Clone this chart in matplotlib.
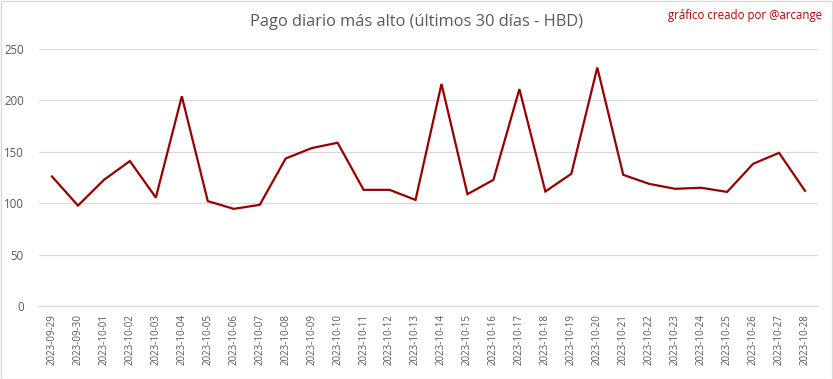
import matplotlib
matplotlib.use("Agg")
import matplotlib.pyplot as plt
from matplotlib.patches import Rectangle

dates = ["2023-09-29", "2023-09-30", "2023-10-01", "2023-10-02", "2023-10-03",
         "2023-10-04", "2023-10-05", "2023-10-06", "2023-10-07", "2023-10-08",
         "2023-10-09", "2023-10-10", "2023-10-11", "2023-10-12", "2023-10-13",
         "2023-10-14", "2023-10-15", "2023-10-16", "2023-10-17", "2023-10-18",
         "2023-10-19", "2023-10-20", "2023-10-21", "2023-10-22", "2023-10-23",
         "2023-10-24", "2023-10-25", "2023-10-26", "2023-10-27", "2023-10-28"]
values = [126, 97.7, 122.7, 141, 105.5, 204, 102, 94.5, 98.4, 143.5,
          153.6, 158.8, 113, 113, 103.2, 216, 108.8, 122.7, 211, 111.4,
          128.6, 232, 127.6, 118.8, 114, 115, 111, 138.3, 149, 112]
yticks = [0, 50, 100, 150, 200, 250]

plt.rcParams['font.family'] = ['Open Sans', 'DejaVu Sans']

fig = plt.figure(figsize=(8.33, 3.79), dpi=100)
ax = fig.add_axes([39/833, 1 - 306/379, (818 - 39)/833, (306 - 49)/379])

x = list(range(len(dates)))
ax.plot(x, values, color="#990000", linewidth=1.6, solid_joinstyle="miter")
ax.set_xlim(-0.5, len(dates) - 0.5)
ax.set_ylim(0, 250)
ax.set_yticks(yticks)
ax.set_yticklabels([str(v) for v in yticks], color="#595959", fontsize=8.3)
ax.set_xticks(x)
ax.set_xticklabels(dates, rotation=90, color="#595959", fontsize=7)
ax.tick_params(axis="both", length=0, pad=6)
ax.tick_params(axis="y", pad=11)
ax.grid(axis="y", color="#d9d9d9", linewidth=0.9)
ax.set_axisbelow(True)
for s in ["top", "right", "left"]:
    ax.spines[s].set_visible(False)
ax.spines["bottom"].set_color("#d9d9d9")
ax.spines["bottom"].set_linewidth(0.9)

fig.text(0.5, 1 - 22/379, "Pago diario más alto (últimos 30 días - HBD)",
         ha="center", va="center", fontsize=11.8, color="#595959")
fig.text(822/833, 1 - 15/379, "gráfico creado por @arcange",
         ha="right", va="center", fontsize=8.3, color="#c00000")

fig.patches.append(Rectangle((0.5/833, 0.5/379), 1 - 1.5/833, 1 - 1.5/379,
                             transform=fig.transFigure, fill=False,
                             edgecolor="#d9d9d9", linewidth=1))

fig.savefig("out.png", dpi=100)
